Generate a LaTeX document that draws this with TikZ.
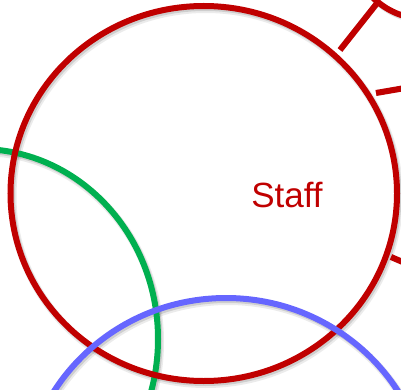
\documentclass[tikz,border=0pt]{standalone}
\usepackage{fontspec}
\setmainfont{Liberation Sans}
\definecolor{cred}{RGB}{192,0,0}
\definecolor{cgreen}{RGB}{0,176,80}
\definecolor{cblue}{RGB}{102,102,255}
\begin{document}
\begin{tikzpicture}[x=1pt,y=-1pt,
  ring/.style={line width=6pt},
  shade1/.style={line width=8pt,draw=black,opacity=0.08,shift={(2,3)}},
  shade2/.style={line width=6pt,draw=black,opacity=0.12,shift={(1.5,2)}},
  lbl/.style={text=cred,font=\fontsize{35}{40}\selectfont,inner sep=0pt}]
\useasboundingbox (0,0) rectangle (401,390);
\begin{scope}
\clip (0,0) rectangle (401,390);
% shadows
\draw[shade1] (-20,339) ellipse [x radius=178, y radius=190];
\draw[shade2] (-20,339) ellipse [x radius=178, y radius=190];
\draw[shade1] (226,497) ellipse [x radius=203, y radius=199];
\draw[shade2] (226,497) ellipse [x radius=203, y radius=199];
\draw[shade1] (203.75,193.5) ellipse [x radius=193.25, y radius=187.5];
\draw[shade2] (203.75,193.5) ellipse [x radius=193.25, y radius=187.5];
\draw[shade2] (425,-55) circle (74);
% green circle
\draw[ring,cgreen] (-20,339) ellipse [x radius=178, y radius=190];
% red big circle
\draw[ring,cred] (203.75,193.5) ellipse [x radius=193.25, y radius=187.5];
% blue circle
\draw[ring,cblue] (226,497) ellipse [x radius=203, y radius=199];
% top-right shapes
\coordinate (a1) at (340,50);
\coordinate (a2) at (378,2);
\coordinate (b1) at (376,93);
\coordinate (b2) at (405,88);
\coordinate (c1) at (391,257);
\coordinate (c2) at (405,263);
\draw[ring,cred] (425,-55) circle (74);
\draw[shade2] (a1) -- (a2);
\draw[shade2] (b1) -- (b2);
\draw[shade2] (c1) -- (c2);
\draw[ring,cred] (a1) -- (a2);
\draw[ring,cred] (b1) -- (b2);
\draw[ring,cred] (c1) -- (c2);
\end{scope}
\node[lbl] (staff) at (287,195) {Staff};
\end{tikzpicture}
\end{document}
